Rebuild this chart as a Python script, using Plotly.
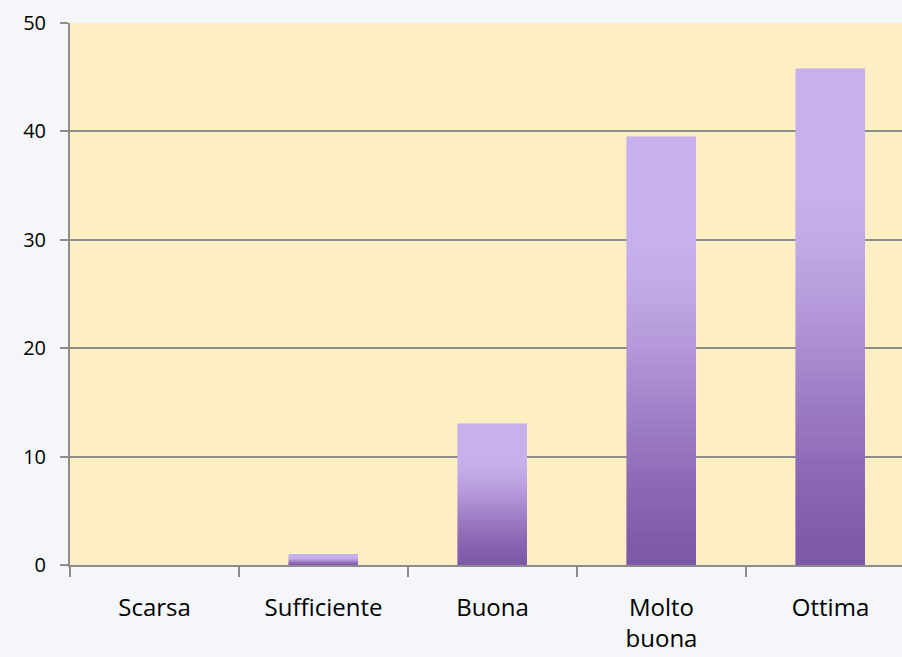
import plotly.graph_objects as go

categories = ["Scarsa", "Sufficiente", "Buona", "Molto<br>buona", "Ottima"]
values = [0, 0.9, 13.0, 39.5, 45.8]
y_ticks = [0, 10, 20, 30, 40, 50]

# gradient: light lavender on top, darker purple at the bottom
top_rgb = (200, 176, 236)
bot_rgb = (126, 88, 168)
N = 80

def color_at(t):
    # t = 0 bottom, 1 top; nearly flat light in upper part, gradient below
    s = min(1.0, t / 0.75)
    s = s * s * (3 - 2 * s) * 0.6 + s * 0.4
    r = [int(round(b + (a - b) * s)) for a, b in zip(top_rgb, bot_rgb)]
    return f"rgb({r[0]},{r[1]},{r[2]})"

fig = go.Figure()
for k in range(N):
    c = color_at((k + 0.5) / N)
    fig.add_trace(go.Bar(
        x=categories,
        y=[(v / N if v > 0 else None) for v in values],
        width=0.41,
        marker=dict(color=c, line=dict(color=c, width=0.6)),
        showlegend=False,
        hoverinfo="skip",
    ))

FONT = "Open Sans, Liberation Sans, sans-serif"
fig.update_layout(
    width=902, height=657,
    barmode="stack",
    bargap=0,
    margin=dict(l=70, r=0, t=23, b=92),
    paper_bgcolor="#F4F6F9",
    plot_bgcolor="#FDEEC4",
    font=dict(family=FONT, color="#000000"),
    xaxis=dict(
        type="category",
        range=[-0.5, 4.423],
        tickson="boundaries",
        ticks="outside", ticklen=10, tickcolor="#8C8C8C", tickwidth=1.5,
        showline=True, linecolor="#8C8C8C", linewidth=2,
        showgrid=False,
        tickfont=dict(size=24, family=FONT),
        ticklabelstandoff=20,
        fixedrange=True,
    ),
    yaxis=dict(
        range=[0, 50],
        tickvals=y_ticks,
        ticks="outside", ticklen=8, tickcolor="#8C8C8C", tickwidth=1.5,
        showline=True, linecolor="#8C8C8C", linewidth=2,
        showgrid=True, gridcolor="#8C8C8C", gridwidth=1.5,
        zeroline=False,
        tickfont=dict(size=20, family=FONT),
        ticklabelstandoff=10,
        fixedrange=True,
    ),
)

fig.write_html(
    "out.html",
    config={"displayModeBar": False},
    post_script="document.body.style.margin='0';document.body.style.background='#F4F6F9';",
)
